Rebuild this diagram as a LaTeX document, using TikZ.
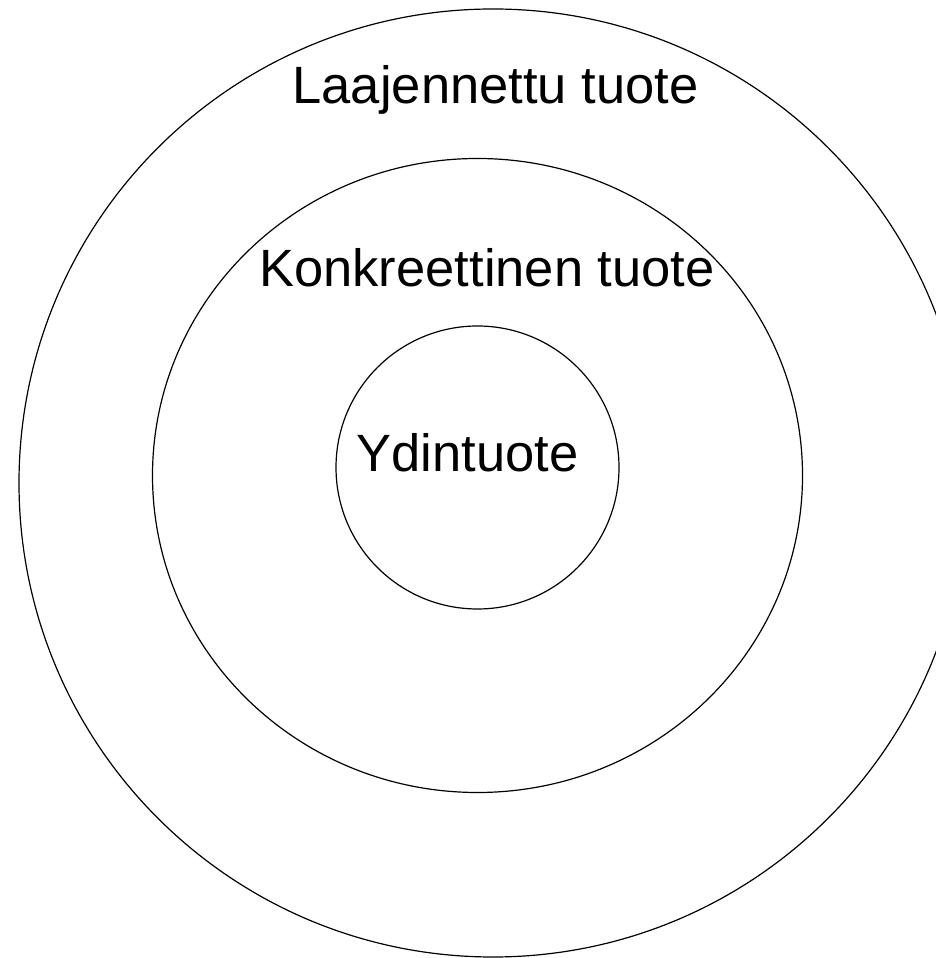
\documentclass[tikz,border=0pt]{standalone}
\usepackage{fontspec}
\setmainfont{Liberation Sans}

\begin{document}
\begin{tikzpicture}[x=1pt, y=1pt, line width=1.2pt]
  \useasboundingbox (0,0) rectangle (936,958);
  \clip (0,0) rectangle (936,958);
  \coordinate (O1) at (493,475);    % outer, r ~474
  \coordinate (O2) at (477.5,482.5); % middle
  \coordinate (O3) at (477.5,490.5); % inner, r ~141
  \draw (O1) circle[radius=474];
  \draw (O2) ellipse[x radius=325, y radius=317];
  \draw (O3) circle[radius=141.5];
  % labels
  \node[anchor=base, inner sep=0pt, font=\fontsize{52.5}{63}\selectfont] (laaj) at (495.5,854) {Laajennettu tuote};
  \node[anchor=base, inner sep=0pt, font=\fontsize{52.5}{63}\selectfont] (konk) at (487,671) {Konkreettinen tuote};
  \node[anchor=base, inner sep=0pt, font=\fontsize{52.5}{63}\selectfont] (ydin) at (467.5,486) {Ydintuote};
\end{tikzpicture}
\end{document}
